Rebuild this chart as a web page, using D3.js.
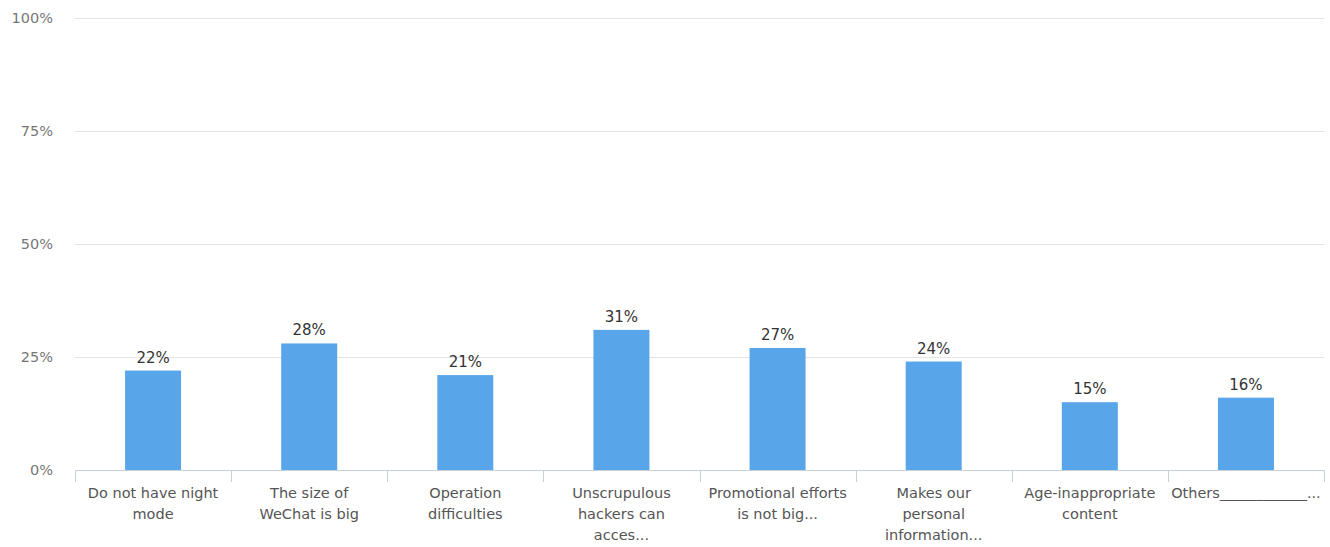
<!DOCTYPE html>
<html>
<head>
<meta charset="utf-8">
<script src="https://cdn.jsdelivr.net/npm/d3@7"></script>
<style>
  body { margin: 0; background: #fff; }
  svg { display: block; font-family: "DejaVu Sans", Verdana, sans-serif; }
</style>
</head>
<body>
<svg width="1330" height="547"></svg>
<script>
// data
var categories = [
  ["Do not have night", "mode"],
  ["The size of", "WeChat is big"],
  ["Operation", "difficulties"],
  ["Unscrupulous", "hackers can", "acces..."],
  ["Promotional efforts", "is not big..."],
  ["Makes our", "personal", "information..."],
  ["Age-inappropriate", "content"],
  ["Others____________..."]
];
var values = [22, 28, 21, 31, 27, 24, 15, 16];
var yTicks = [0, 25, 50, 75, 100];

var svg = d3.select('svg');
// note: "top" clashes with window.top, so plotTop
var plotLeft = 75, plotRight = 1324, plotTop = 18, plotBottom = 470;

var x = d3.scaleBand().domain(d3.range(values.length)).range([plotLeft, plotRight]).padding(0);
var y = d3.scaleLinear().domain([0, 100]).range([plotBottom, plotTop]);

// grid lines
svg.append('g').selectAll('line').data(yTicks.slice(1)).enter().append('line')
  .attr('x1', plotLeft).attr('x2', plotRight)
  .attr('y1', function(d) { return Math.round(y(d)) + 0.5; })
  .attr('y2', function(d) { return Math.round(y(d)) + 0.5; })
  .attr('stroke', '#e3e3e3').attr('stroke-width', 1);

// y labels
svg.append('g').selectAll('text').data(yTicks).enter().append('text')
  .attr('x', 53).attr('y', function(d) { return y(d) + 5; })
  .attr('text-anchor', 'end').attr('font-size', 14.5).attr('fill', '#777')
  .text(function(d) { return d + '%'; });

// bars
var barW = 56;
svg.append('g').selectAll('rect').data(values).enter().append('rect')
  .attr('x', function(d, i) { return x(i) + x.bandwidth() / 2 - barW / 2; })
  .attr('y', function(d) { return y(d); })
  .attr('width', barW)
  .attr('height', function(d) { return plotBottom - y(d); })
  .attr('fill', '#58a6e9');

// value labels
svg.append('g').selectAll('text').data(values).enter().append('text')
  .attr('x', function(d, i) { return x(i) + x.bandwidth() / 2; })
  .attr('y', function(d) { return y(d) - 8; })
  .attr('text-anchor', 'middle').attr('font-size', 15).attr('fill', '#333')
  .text(function(d) { return d + '%'; });

// x axis line + ticks
svg.append('line').attr('x1', plotLeft).attr('x2', plotRight).attr('y1', plotBottom + 0.5).attr('y2', plotBottom + 0.5)
  .attr('stroke', '#c8d0d8');
svg.append('g').selectAll('line').data(d3.range(values.length + 1)).enter().append('line')
  .attr('x1', function(i) { return Math.round(plotLeft + i * x.bandwidth()) + 0.5; })
  .attr('x2', function(i) { return Math.round(plotLeft + i * x.bandwidth()) + 0.5; })
  .attr('y1', plotBottom).attr('y2', plotBottom + 12)
  .attr('stroke', '#c8d0d8');

// category labels
var lab = svg.append('g').selectAll('text').data(categories).enter().append('text')
  .attr('x', function(d, i) { return x(i) + x.bandwidth() / 2; })
  .attr('y', 498)
  .attr('text-anchor', 'middle').attr('font-size', 14.5).attr('fill', '#555');
lab.selectAll('tspan').data(function(d) { return d; }).enter().append('tspan')
  .attr('x', function() { return d3.select(this.parentNode).attr('x'); })
  .attr('dy', function(d, j) { return j === 0 ? 0 : 21; })
  .text(function(d) { return d; });
</script>
</body>
</html>
